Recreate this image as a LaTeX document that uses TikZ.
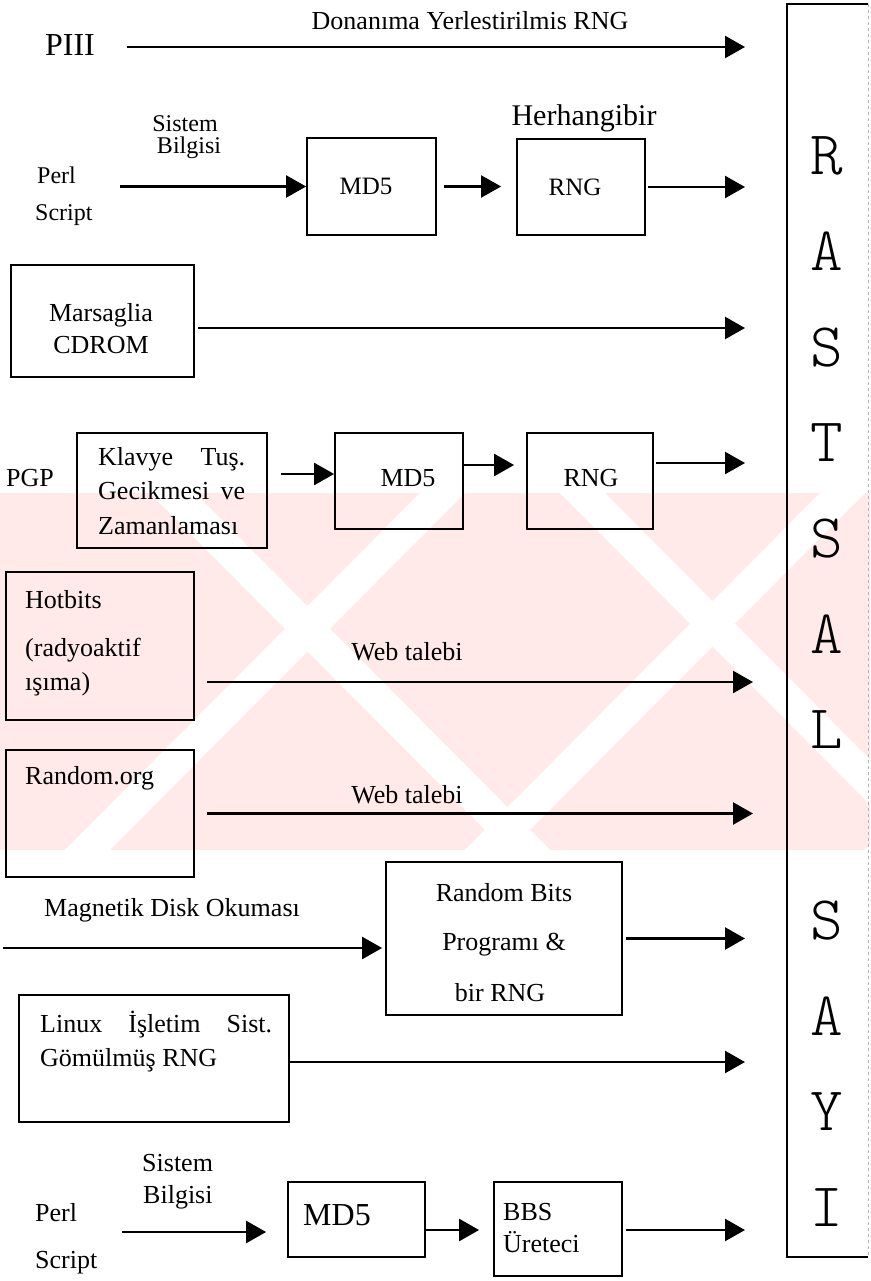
\documentclass[tikz,border=0pt]{standalone}
\usepackage{fontspec}
\setmainfont{Liberation Serif}
\usetikzlibrary{arrows.meta}

\begin{document}
\begin{tikzpicture}[x=1pt,y=-1pt,
  box/.style={draw=black, line width=1.8pt, inner sep=0pt},
  flow/.style={line width=2.4pt, -{Triangle[length=20pt,width=22pt]}},
  lbl/.style={inner sep=0pt, font=\fontsize{26}{31}\selectfont},
  small/.style={inner sep=0pt, font=\fontsize{24}{28}\selectfont},
  bigletter/.style={inner sep=0pt, font=\ttfamily\fontseries{l}\fontsize{62}{62}\selectfont}
]
\useasboundingbox (0,0) rectangle (870,1281);

% faint background band
\begin{scope}
  \clip (0,493) rectangle (870,850);
  \fill[pink!35] (0,493) rectangle (870,850);
  \foreach \s in {150,560,950}
    \fill[white] (\s,493) -- ++(45,0) -- ++(360,362) -- ++(-45,0) -- cycle;
  \foreach \s in {420,820,1220}
    \fill[white] (\s,493) -- ++(45,0) -- ++(-360,362) -- ++(-45,0) -- cycle;
\end{scope}

% ---------- boxes ----------
\node[box, minimum width=129pt, minimum height=97pt] (md5a) at (371.5,186.5) {};
\node[box, minimum width=128pt, minimum height=96pt] (rnga) at (581,187) {};
\node[box, minimum width=183pt, minimum height=112pt] (mars) at (102.5,321) {};
\node[box, minimum width=190pt, minimum height=115pt] (klav) at (172,490.5) {};
\node[box, minimum width=128pt, minimum height=96pt] (md5b) at (399,481) {};
\node[box, minimum width=126pt, minimum height=96pt] (rngb) at (590,481) {};
\node[box, minimum width=188pt, minimum height=148pt] (hot) at (100,646) {};
\node[box, minimum width=188pt, minimum height=127pt] (rorg) at (100,813.5) {};
\node[box, minimum width=236pt, minimum height=153pt] (rbits) at (504,938.5) {};
\node[box, minimum width=270pt, minimum height=127pt] (linux) at (154,1058.5) {};
\node[box, minimum width=137pt, minimum height=75pt] (md5c) at (356.5,1219.5) {};
\node[box, minimum width=128pt, minimum height=94pt] (bbs) at (558,1229) {};

% tall output column
\node[inner sep=0pt, minimum width=81pt, minimum height=1253pt] (sayi) at (827.5,630.5) {};
\draw[line width=1.8pt] (sayi.north east) -- (sayi.north west) -- (sayi.south west) -- (sayi.south east);
\draw[gray!60, line width=1pt, dashed] (sayi.north east) -- (sayi.south east);
\foreach \ch [count=\k from 0] in {R,A,S,T,S,A,L,{},S,A,Y,I}
  \node[bigletter] (let\k) at (827,{156+95.6*\k}) {\ch};

% ---------- texts ----------
\node[inner sep=0pt, font=\fontsize{32}{36}\selectfont] (piii) at (70,45) {PIII};
\node[lbl] (donan) at (470,21) {Donanıma Yerlestirilmis RNG};

\node[small] (sisA) at (185,124) {Sistem};
\node[small] (bilA) at (189,148) {Bilgisi};
\node[small, anchor=west] (perlA) at (37,175) {Perl};
\node[small, anchor=west] (scrA) at (35,215) {Script};
\node[inner sep=0pt, font=\fontsize{30}{34}\selectfont] (herh) at (584,118) {Herhangibir};
\node[inner sep=0pt, font=\fontsize{25}{30}\selectfont] at (366,186) {MD5};
\node[inner sep=0pt, font=\fontsize{25}{30}\selectfont] at (575,187) {RNG};

\node[inner sep=0pt, font=\fontsize{26}{32}\selectfont, align=center] at (101,329) {Marsaglia\\CDROM};

\node[lbl] (pgp) at (30,478) {PGP};
\node[inner sep=0pt, font=\fontsize{26}{34.5}\selectfont, align=left, anchor=north west] at (98,447)
  {\makebox[147pt][s]{Klavye Tuş.}\\\makebox[147pt][s]{Gecikmesi ve}\\Zamanlaması};
\node[lbl] at (408,478) {MD5};
\node[lbl] at (591,478) {RNG};

\node[lbl, anchor=west] (hot1) at (25,600) {Hotbits};
\node[lbl, anchor=west] (hot2) at (25,650) {(radyoaktif};
\node[lbl, anchor=west] (hot3) at (25,684) {ışıma)};
\node[lbl] (web1) at (407,652) {Web talebi};

\node[lbl, anchor=west] (rorgt) at (25,778) {Random.org};
\node[lbl] (web2) at (407,795) {Web talebi};

\node[lbl, anchor=west] (magt) at (44,910) {Magnetik Disk Okuması};
\node[lbl] at (504,893) {Random Bits};
\node[lbl] at (504,945) {Programı \&};
\node[lbl] at (500,993) {bir RNG};

\node[lbl, anchor=west] (lin1) at (40,1025) {\makebox[232pt][s]{Linux İşletim Sist.}};
\node[lbl, anchor=west] (lin2) at (40,1060) {Gömülmüş RNG};

\node[lbl, anchor=west] (sisB) at (142,1163) {Sistem};
\node[lbl, anchor=west] (bilB) at (143,1197) {Bilgisi};
\node[lbl, anchor=west] (perlB) at (35,1213) {Perl};
\node[lbl, anchor=west] (scrB) at (35,1263) {Script};
\node[inner sep=0pt, font=\fontsize{32}{36}\selectfont] at (337,1215) {MD5};
\node[lbl, anchor=west] at (503,1212) {BBS};
\node[lbl, anchor=west] at (503,1242) {Üreteci};

% ---------- arrow end points ----------
\coordinate (tip) at (745,0);
\coordinate (s1) at (127,47);
\coordinate (s2) at (120,186.5);
\coordinate (s11) at (3,948);
\coordinate (s14) at (122,1232);

% ---------- arrows ----------
\draw[flow] (s1) -- (s1 -| tip);
\draw[flow] (s2) -- (md5a.west);
\draw[flow, shorten <=7pt, shorten >=15pt] (md5a.east) -- (md5a.east -| rnga.west);
\draw[flow, shorten <=2pt] (rnga.east) -- (rnga.east -| tip);
\draw[flow, shorten <=3pt] ([yshift=-7pt]mars.east) coordinate (s5) -- (s5 -| tip);
\draw[flow, shorten <=13pt] ([yshift=16.5pt]klav.east) coordinate (s6) -- (s6 -| md5b.west);
\draw[flow, shorten >=12pt] ([yshift=16pt]md5b.east) coordinate (s7) -- (s7 -| rngb.west);
\draw[flow, shorten <=2pt] ([yshift=18pt]rngb.east) coordinate (s8) -- (s8 -| tip);
\draw[flow, shorten <=12pt] ([yshift=-36pt]hot.east) coordinate (s9) -- ([xshift=8pt]s9 -| tip);
\draw[flow, shorten <=12pt] (rorg.east) -- ([xshift=8pt]rorg.east -| tip);
\draw[flow, shorten >=3pt] (s11) -- (s11 -| rbits.west);
\draw[flow, shorten <=3pt] (rbits.east) -- (rbits.east -| tip);
\draw[flow] ([yshift=-3.5pt]linux.east) coordinate (s13) -- (s13 -| tip);
\draw[flow, shorten >=21pt] (s14) -- (s14 -| md5c.west);
\draw[flow, shorten >=14pt] ([yshift=-10.5pt]md5c.east) coordinate (s15) -- (s15 -| bbs.west);
\draw[flow, shorten <=3pt] ([yshift=-1pt]bbs.east) coordinate (s16) -- (s16 -| tip);
\end{tikzpicture}
\end{document}
